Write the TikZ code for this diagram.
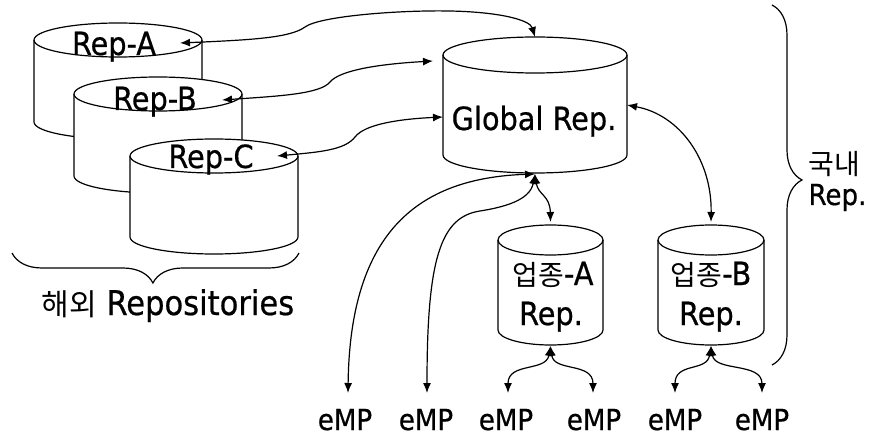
\documentclass[tikz,border=0pt]{standalone}
\usepackage{fontspec}
\setmainfont{DejaVu Sans Condensed}[FakeBold=0.6]
\newfontfamily\kr{Noto Sans CJK KR}
\newcommand\krs{\kr\fontsize{28}{32}\selectfont}
\usetikzlibrary{arrows.meta,decorations.pathreplacing}
\newcommand\dbcyl[6]{%
  \node[inner sep=0pt, outer sep=0pt, minimum width=#4pt, minimum height=#5pt, anchor=north] (#1) at (#2,#3) {};
  \pgfmathsetlengthmacro\cylrx{#4/2}%
  \filldraw[fill=white] ([yshift=-#6pt]#1.north west) -- ([yshift=#6pt]#1.south west)
    arc[start angle=180, end angle=360, x radius=\cylrx, y radius=#6pt]
    -- ([yshift=-#6pt]#1.north east)
    arc[start angle=0, end angle=180, x radius=\cylrx, y radius=#6pt] -- cycle;
  \draw ([yshift=-#6pt]#1.north west) arc[start angle=180, end angle=360, x radius=\cylrx, y radius=#6pt];
}
\begin{document}
\begin{tikzpicture}[x=1pt, y=-1pt, line width=1.2pt,
  >={Latex[length=10pt,width=8pt]},
  lbl/.style={inner sep=0pt, anchor=base, font=\fontsize{32}{36}\selectfont},
  emp/.style={inner sep=0pt, anchor=base, font=\fontsize{29}{32}\selectfont},
  conn/.style={<->},
  brc/.style={decorate, decoration={brace, amplitude=30pt, #1}}]
\useasboundingbox (0,0) rectangle (871,441);

% cylinders
\dbcyl{A}{118}{23}{168}{116}{17}
\dbcyl{B}{158}{77}{168}{116}{17}
\dbcyl{C}{214}{139}{168}{115}{17}
\dbcyl{G}{535}{37}{184}{136}{18}
\dbcyl{UA}{550.5}{225}{105}{120}{15}
\dbcyl{UB}{711}{225}{106}{120}{15}

% labels
\node[lbl] (tA) at (114,55) {Rep-A};
\node[lbl] (tB) at (155,110) {Rep-B};
\node[lbl] (tC) at (211,168) {Rep-C};
\node[lbl] (tG) at (534,130) {Global Rep.};
\node[lbl] (tUA1) at (553,285) {{\krs 업종}-A};
\node[lbl] (tUA2) at (551,325) {Rep.};
\node[lbl] (tUB1) at (711,285) {{\krs 업종}-B};
\node[lbl] (tUB2) at (711,325) {Rep.};
\node[emp] (e1) at (345,430) {eMP};
\node[emp] (e2) at (426,430) {eMP};
\node[emp] (e3) at (506,430) {eMP};
\node[emp] (e4) at (594,430) {eMP};
\node[emp] (e5) at (675,430) {eMP};
\node[emp] (e6) at (762,430) {eMP};
\node[lbl, anchor=base west, font=\fontsize{34}{36}\selectfont] (tOv) at (41,315) {{\kr\fontsize{30}{32}\selectfont 해외} Repositories};
\node[lbl, anchor=base west] (tDom1) at (808,175) {\krs 국내};
\node[lbl, anchor=base west, font=\fontsize{29}{32}\selectfont] (tDom2) at (808,205) {Rep.};

% connector end points
\coordinate (a1) at (180,43);
\coordinate (b1) at (222,100);
\coordinate (c1) at (277,156);
\coordinate (gW1) at (433,61);
\coordinate (gW2) at (443,117);
\coordinate (gS) at ([yshift=-1pt]G.south);
\coordinate (uaN) at ([yshift=3pt]UA.north);
\coordinate (ubN) at ([yshift=3pt]UB.north);
\coordinate (uaS) at ([yshift=-1pt]UA.south);
\coordinate (ubS) at ([yshift=-1pt]UB.south);
\coordinate (t1) at (348,393);
\coordinate (t2) at (427,393);
\coordinate (t3) at (508,393);
\coordinate (t4) at (593,393);
\coordinate (t5) at (675,393);
\coordinate (t6) at (762,393);

% connectors
\draw[conn] (a1) .. controls (250,40) and (290,38) .. (305,27)
  .. controls (320,16) and (400,10) .. (450,11)
  .. controls (500,12) and (530,20) .. (G.north);
\draw[conn] (b1) .. controls (280,96) and (320,94) .. (330,82)
  .. controls (340,70) and (380,64) .. (gW1);
\draw[conn] (c1) .. controls (320,152) and (345,150) .. (355,137)
  .. controls (365,124) and (400,119) .. (gW2);
\draw[conn] (gS) .. controls (538,195) and (550,195) .. (uaN);
\draw[conn] (gS) .. controls (420,178) and (350,230) .. (t1);
\draw[conn] (gS) .. controls (530,200) and (505,207) .. (480,211)
  .. controls (440,217) and (427,260) .. (t2);
\draw[conn] (G.east) .. controls (680,115) and (712,160) .. (ubN);
\draw[conn] (uaS) .. controls (546,372) and (508,362) .. (t3);
\draw[conn] (uaS) .. controls (554,372) and (593,362) .. (t4);
\draw[conn] (ubS) .. controls (707,372) and (675,362) .. (t5);
\draw[conn] (ubS) .. controls (715,372) and (762,362) .. (t6);

% braces
\draw[brc={aspect=0.509}] (299,253) -- (12,253);
\draw[brc={aspect=0.486}] (772,5) -- (772,365);
\end{tikzpicture}
\end{document}
